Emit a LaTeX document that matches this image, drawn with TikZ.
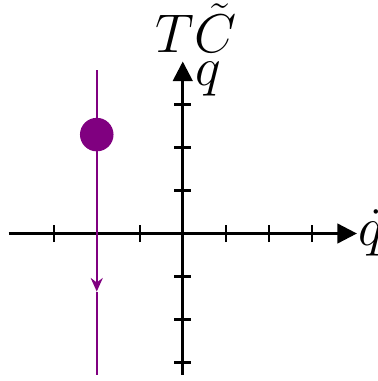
\documentclass[tikz,border=0pt]{standalone}
\usepackage{amsmath}
\usetikzlibrary{arrows.meta, positioning, calc}
\definecolor{traj}{HTML}{800080}

\begin{document}
\begin{tikzpicture}[
    axis/.style={line width=1.8pt, -{Triangle[length=13pt, width=13pt]}},
    tick/.style={line width=1.4pt},
    flow/.style={line width=1.3pt, color=traj},
    lab/.style={font=\Huge, scale=1.45, transform shape, inner sep=0pt},
  ]
    \useasboundingbox (-4.25,-3.43) rectangle (4.52,5.43);

    % Axes
    \coordinate (xstart) at (-4.05,0);
    \coordinate (xend)   at (4.05,0);
    \coordinate (ystart) at (0,-3.28);
    \coordinate (yend)   at (0,4.0);
    \draw[axis] (xstart) -- (xend);
    \draw[axis] (ystart) -- (yend);
    \foreach \t in {-3,-2,-1,1,2,3} {
      \draw[tick] (\t,-0.2) -- (\t,0.2);
      \draw[tick] (-0.2,\t) -- (0.2,\t);
    }

    % Labels
    \node[lab, anchor=base west] (qdot) at (4.08,-0.27) {$\dot q$};
    \node[lab, anchor=base west] (q) at (0.28,3.45) {$q$};
    \node[lab, anchor=base west] (space) at (-0.64,4.2) {$T\tilde{C}$};

    % Trajectory
    \coordinate (top) at (-2,3.8);
    \coordinate (mid) at (-2,-1.35);
    \coordinate (bot) at (-2,-3.28);
    \draw[flow, -{Stealth[length=9pt, width=8pt, inset=3pt]}] (top) -- (mid);
    \draw[flow] (mid) -- (bot);
    \fill[traj] (-2,2.3) circle (0.39);
  \end{tikzpicture}
\end{document}
